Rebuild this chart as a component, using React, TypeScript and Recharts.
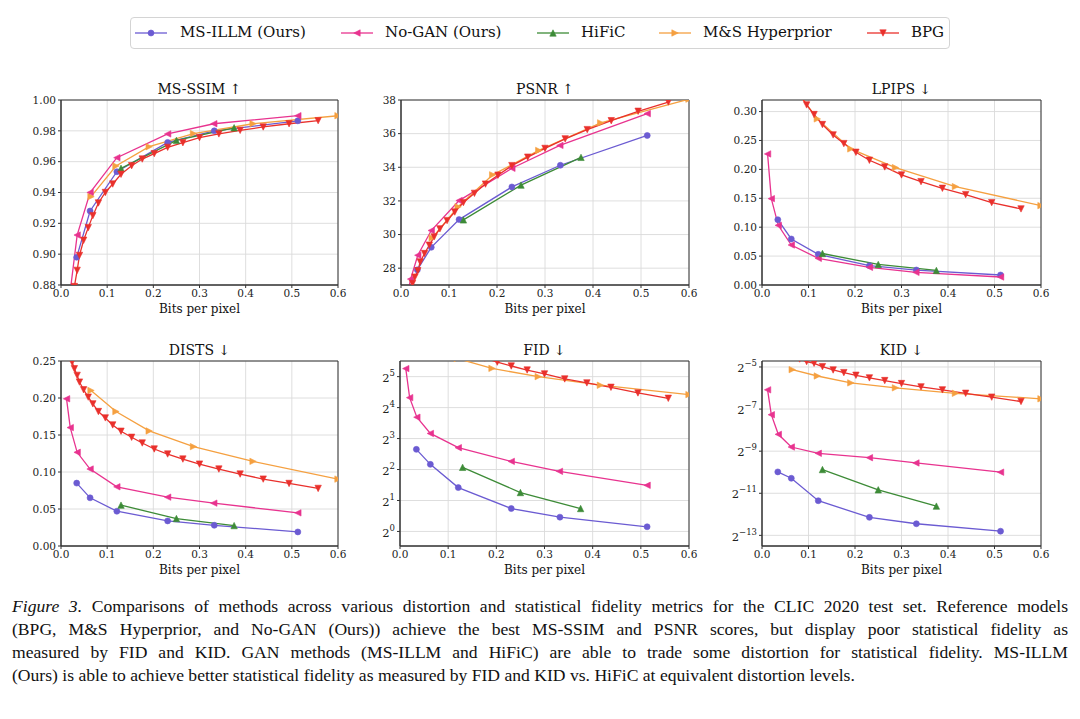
import { CartesianGrid, Line, LineChart, ReferenceArea, XAxis, YAxis } from "recharts";

const FONT = "'DejaVu Serif', serif";

// bits per pixel of each method's operating points
const msIllmBpp = [0.034, 0.063, 0.121, 0.231, 0.332, 0.513];
const noGanBpp = [0.012, 0.02, 0.035, 0.063, 0.121, 0.231, 0.331, 0.513];
const hificBpp = [0.13, 0.25, 0.375];
const msHypBpp = [0.065, 0.119, 0.191, 0.287, 0.416, 0.6];
const bpgBpp = [
  0.02, 0.024, 0.029, 0.035, 0.04, 0.049, 0.059, 0.069, 0.081, 0.096, 0.112, 0.13,
  0.153, 0.176, 0.202, 0.231, 0.264, 0.3, 0.342, 0.388, 0.438, 0.494, 0.557,
];

// MS-SSIM
const msIllmMsSsim = [0.898, 0.928, 0.9535, 0.9725, 0.98, 0.9865];
const noGanMsSsim = [0.83, 0.876, 0.9124, 0.94, 0.9626, 0.978, 0.9846, 0.9898];
const hificMsSsim = [0.9557, 0.9738, 0.982];
const msHypMsSsim = [0.9373, 0.9572, 0.9697, 0.9782, 0.9846, 0.9898];
const bpgMsSsim = [
  0.845, 0.866, 0.879, 0.8895, 0.8992, 0.909, 0.9172, 0.925, 0.9332, 0.94, 0.9455, 0.9518,
  0.9574, 0.9617, 0.9652, 0.9693, 0.9723, 0.9756, 0.978, 0.9803, 0.9825, 0.9846, 0.9866,
];

// PSNR
const msIllmPsnr = [27.9, 29.24, 30.89, 32.83, 34.12, 35.89];
const noGanPsnr = [26.2, 27.35, 28.77, 30.24, 32.02, 33.94, 35.3, 37.19];
const hificPsnr = [30.87, 32.94, 34.59];
const msHypPsnr = [29.8, 31.65, 33.55, 35.0, 36.64, 38.05];
const bpgPsnr = [
  26.7, 27.09, 27.47, 27.85, 28.37, 28.87, 29.37, 29.86, 30.34, 30.83, 31.34, 31.9,
  32.45, 33.0, 33.53, 34.1, 34.6, 35.12, 35.69, 36.24, 36.77, 37.33, 37.88,
];

// LPIPS
const msIllmLpips = [0.113, 0.0796, 0.053, 0.0335, 0.0259, 0.0173];
const noGanLpips = [0.2267, 0.1494, 0.1032, 0.0692, 0.0461, 0.0305, 0.0219, 0.0138];
const hificLpips = [0.0545, 0.0355, 0.0252];
const msHypLpips = [0.346, 0.2873, 0.2354, 0.2031, 0.1702, 0.1373];
const bpgLpips = [
  0.52, 0.49, 0.46, 0.435, 0.415, 0.39, 0.366, 0.348, 0.33, 0.3115, 0.2948, 0.2775,
  0.2596, 0.2446, 0.2296, 0.2158, 0.2042, 0.1904, 0.1788, 0.1673, 0.1564, 0.1425, 0.1316,
];

// DISTS
const msIllmDists = [0.085, 0.0651, 0.047, 0.0339, 0.028, 0.019];
const noGanDists = [0.1989, 0.16, 0.1266, 0.104, 0.08, 0.066, 0.0579, 0.0448];
const hificDists = [0.0552, 0.0371, 0.0276];
const msHypDists = [0.2102, 0.1817, 0.1555, 0.1343, 0.1144, 0.0904];
const bpgDists = [
  0.262, 0.2486, 0.2396, 0.2306, 0.2215, 0.2111, 0.2012, 0.1921, 0.1817, 0.1731, 0.1636,
  0.1551, 0.1469, 0.1392, 0.1311, 0.1243, 0.1175, 0.1107, 0.104, 0.0972, 0.0904, 0.0845,
  0.0778,
];

// FID
const msIllmFid = [6.28, 4.49, 2.67, 1.67, 1.377, 1.11];
const noGanFid = [38.3, 20.0, 12.9, 8.97, 6.52, 4.8, 3.84, 2.81];
const hificFid = [4.2, 2.39, 1.67];
const msHypFid = [60, 48, 38.5, 32.0, 26.4, 21.4];
const bpgFid = [
  150, 138, 128, 118, 110, 100, 92, 84, 76, 69, 63, 58, 53, 48.5, 44.3, 40.6, 37.1, 34.0,
  30.4, 27.8, 25.2, 22.2, 19.7,
];

// KID
const msIllmKid = [0.000987, 0.0008, 0.000382, 0.000221, 0.000179, 0.00014];
const noGanKid = [0.01472, 0.00649, 0.0034, 0.00224, 0.00182, 0.001576, 0.001325, 0.000978];
const hificKid = [0.001066, 0.000547, 0.00032];
const msHypKid = [0.02862, 0.02322, 0.0185, 0.01572, 0.01314, 0.01095];
const bpgKid = [
  0.085, 0.078, 0.072, 0.066, 0.061, 0.056, 0.051, 0.046, 0.0406, 0.0373, 0.0353, 0.0316,
  0.0283, 0.02595, 0.02379, 0.02181, 0.01998, 0.01811, 0.01624, 0.01472, 0.01314, 0.01157,
  0.01003,
];

const bppTicks = [0, 0.1, 0.2, 0.3, 0.4, 0.5, 0.6];

type Shape = "circle" | "left" | "up" | "right" | "down";

const methods: { name: string; color: string; shape: Shape; bpp: number[] }[] = [
  { name: "MS-ILLM (Ours)", color: "#6b5bd2", shape: "circle", bpp: msIllmBpp },
  { name: "No-GAN (Ours)", color: "#e8338f", shape: "left", bpp: noGanBpp },
  { name: "HiFiC", color: "#3d8b37", shape: "up", bpp: hificBpp },
  { name: "M&S Hyperprior", color: "#f5a040", shape: "right", bpp: msHypBpp },
  { name: "BPG", color: "#e9302c", shape: "down", bpp: bpgBpp },
];

// legend item positions (line start, text start)
const legendLineX = [134, 340, 536, 658, 866];
const legendTextX = [180, 385, 581, 703, 911];

const pow2 = (e: number) => Math.pow(2, e);

const panels = [
  {
    title: "MS-SSIM ↑", left: 61, top: 100, w: 277, h: 185,
    domain: [0.88, 1.0], ticks: [0.88, 0.9, 0.92, 0.94, 0.96, 0.98, 1.0],
    fmt: (v: number) => v.toFixed(2), log: false,
    series: [msIllmMsSsim, noGanMsSsim, hificMsSsim, msHypMsSsim, bpgMsSsim],
  },
  {
    title: "PSNR ↑", left: 401, top: 100, w: 288, h: 185,
    domain: [27, 38], ticks: [28, 30, 32, 34, 36, 38],
    fmt: (v: number) => String(v), log: false,
    series: [msIllmPsnr, noGanPsnr, hificPsnr, msHypPsnr, bpgPsnr],
  },
  {
    title: "LPIPS ↓", left: 762, top: 100, w: 279, h: 185,
    domain: [0, 0.32], ticks: [0, 0.05, 0.1, 0.15, 0.2, 0.25, 0.3],
    fmt: (v: number) => v.toFixed(2), log: false,
    series: [msIllmLpips, noGanLpips, hificLpips, msHypLpips, bpgLpips],
  },
  {
    title: "DISTS ↓", left: 61, top: 361, w: 277, h: 185,
    domain: [0, 0.25], ticks: [0, 0.05, 0.1, 0.15, 0.2, 0.25],
    fmt: (v: number) => v.toFixed(2), log: false,
    series: [msIllmDists, noGanDists, hificDists, msHypDists, bpgDists],
  },
  {
    title: "FID ↓", left: 400, top: 361, w: 289, h: 185,
    domain: [pow2(-0.47), pow2(5.505)], ticks: [0, 1, 2, 3, 4, 5].map(pow2),
    fmt: (v: number) => String(v), log: true,
    series: [msIllmFid, noGanFid, hificFid, msHypFid, bpgFid],
  },
  {
    title: "KID ↓", left: 762, top: 361, w: 279, h: 185,
    domain: [pow2(-13.505), pow2(-4.716)], ticks: [-13, -11, -9, -7, -5].map(pow2),
    fmt: (v: number) => String(v), log: true,
    series: [msIllmKid, noGanKid, hificKid, msHypKid, bpgKid],
  },
];

const toPts = (xs: number[], ys: number[]) => xs.map((x, i) => ({ x, y: ys[i] }));

function Marker({ shape, cx, cy, color }: { shape: Shape; cx: number; cy: number; color: string }) {
  if (cx == null || cy == null || isNaN(cx) || isNaN(cy)) return null;
  const r = 3.2;
  if (shape === "circle") {
    return <circle cx={cx} cy={cy} r={3} fill={color} stroke={color} strokeWidth={0.6} />;
  }
  const pts: Record<string, number[][]> = {
    down: [[0, r], [-r, -r], [r, -r]],
    up: [[0, -r], [-r, r], [r, r]],
    left: [[-r, 0], [r, -r], [r, r]],
    right: [[r, 0], [-r, -r], [-r, r]],
  };
  return (
    <polygon
      points={pts[shape].map(([dx, dy]) => `${cx + dx},${cy + dy}`).join(" ")}
      fill={color}
      stroke={color}
      strokeWidth={0.6}
    />
  );
}

function PowTick(props: any) {
  const { x, y, payload } = props;
  const e = Math.round(Math.log2(payload.value));
  return (
    <text x={x} y={y} textAnchor="end" dy="0.45em" fontSize={11.5} fontFamily={FONT} fill="#222">
      2
      <tspan dy={-6} fontSize={8.5}>
        {e < 0 ? "\u2212" + -e : e}
      </tspan>
    </text>
  );
}

const tickStyle = { fontSize: 10.5, fill: "#222", fontFamily: FONT };

function Panel({ p }: { p: (typeof panels)[number] }) {
  const YW = 50, MT = 12, MR = 16, XH = 22;
  return (
    <>
      <div style={{ position: "absolute", left: p.left - YW, top: p.top - MT }}>
        <LineChart
          width={YW + p.w + MR}
          height={MT + p.h + XH}
          margin={{ top: MT, right: MR, bottom: 0, left: 0 }}
        >
          <CartesianGrid stroke="#dadada" strokeWidth={0.9} />
          <XAxis
            type="number"
            dataKey="x"
            domain={[0, 0.6]}
            ticks={bppTicks}
            interval={0}
            allowDataOverflow
            height={XH}
            tickFormatter={(v: number) => v.toFixed(1)}
            tick={tickStyle}
            tickSize={3}
            tickMargin={2}
            stroke="#333"
          />
          <YAxis
            type="number"
            domain={p.domain}
            ticks={p.ticks}
            interval={0}
            scale={p.log ? "log" : "auto"}
            allowDataOverflow
            width={YW}
            tick={p.log ? PowTick : tickStyle}
            tickFormatter={p.fmt}
            tickSize={3}
            tickMargin={2}
            stroke="#333"
          />
          {methods.map((m, i) => (
            <Line
              key={m.name}
              name={m.name}
              data={toPts(m.bpp, p.series[i])}
              dataKey="y"
              type="linear"
              stroke={m.color}
              strokeWidth={1.3}
              dot={(d: any) => (
                <Marker key={`${m.name}-${d.index}`} shape={m.shape} cx={d.cx} cy={d.cy} color={m.color} />
              )}
              activeDot={false}
              isAnimationActive={false}
            />
          ))}
          <ReferenceArea
            x1={0}
            x2={0.6}
            y1={p.domain[0]}
            y2={p.domain[1]}
            fill="none"
            stroke="#333"
            strokeWidth={1}
            ifOverflow="visible"
          />
        </LineChart>
      </div>
      <div
        style={{
          position: "absolute", left: p.left, width: p.w, top: p.top - 19,
          textAlign: "center", fontFamily: FONT, fontSize: 14, lineHeight: "16px", color: "#111",
        }}
      >
        {p.title}
      </div>
      <div
        style={{
          position: "absolute", left: p.left, width: p.w, top: p.top + p.h + 17,
          textAlign: "center", fontFamily: FONT, fontSize: 12, lineHeight: "14px", color: "#111",
        }}
      >
        Bits per pixel
      </div>
    </>
  );
}

function Legend() {
  return (
    <div
      style={{
        position: "absolute", left: 130, top: 17, width: 820, height: 32,
        border: "1px solid #d4d4d4", borderRadius: 4, boxSizing: "border-box",
      }}
    >
      {methods.map((m, i) => (
        <div key={m.name}>
          <svg
            width={34}
            height={12}
            style={{ position: "absolute", left: legendLineX[i] - 131, top: 9 }}
          >
            <line x1={1} y1={6} x2={33} y2={6} stroke={m.color} strokeWidth={1.3} />
            <Marker shape={m.shape} cx={17} cy={6} color={m.color} />
          </svg>
          <span
            style={{
              position: "absolute", left: legendTextX[i] - 131, top: 5,
              fontFamily: FONT, fontSize: 15, lineHeight: "18px", color: "#111", whiteSpace: "nowrap",
            }}
          >
            {m.name}
          </span>
        </div>
      ))}
    </div>
  );
}

const captionLines = [
  "Comparisons of methods across various distortion and statistical fidelity metrics for the CLIC 2020 test set. Reference models",
  "(BPG, M&S Hyperprior, and No-GAN (Ours)) achieve the best MS-SSIM and PSNR scores, but display poor statistical fidelity as",
  "measured by FID and KID. GAN methods (MS-ILLM and HiFiC) are able to trade some distortion for statistical fidelity. MS-ILLM",
  "(Ours) is able to achieve better statistical fidelity as measured by FID and KID vs. HiFiC at equivalent distortion levels.",
];

function Caption() {
  return (
    <div
      style={{
        position: "absolute", left: 12, top: 595, width: 1056,
        fontFamily: "'Liberation Serif', serif", fontSize: 17.6, lineHeight: "23px", color: "#111",
      }}
    >
      {captionLines.map((line, i) => (
        <div
          key={i}
          style={{
            textAlign: i < captionLines.length - 1 ? "justify" : "left",
            textAlignLast: i < captionLines.length - 1 ? "justify" : "left",
            whiteSpace: "nowrap",
          }}
        >
          {i === 0 && <i>Figure 3.</i>} {line}
        </div>
      ))}
    </div>
  );
}

export default function App() {
  return (
    <div
      style={{
        position: "absolute", left: 0, top: 0, width: 1080, height: 719,
        background: "#fff", overflow: "hidden",
      }}
    >
      <Legend />
      {panels.map((p) => (
        <Panel key={p.title} p={p} />
      ))}
      <Caption />
    </div>
  );
}
